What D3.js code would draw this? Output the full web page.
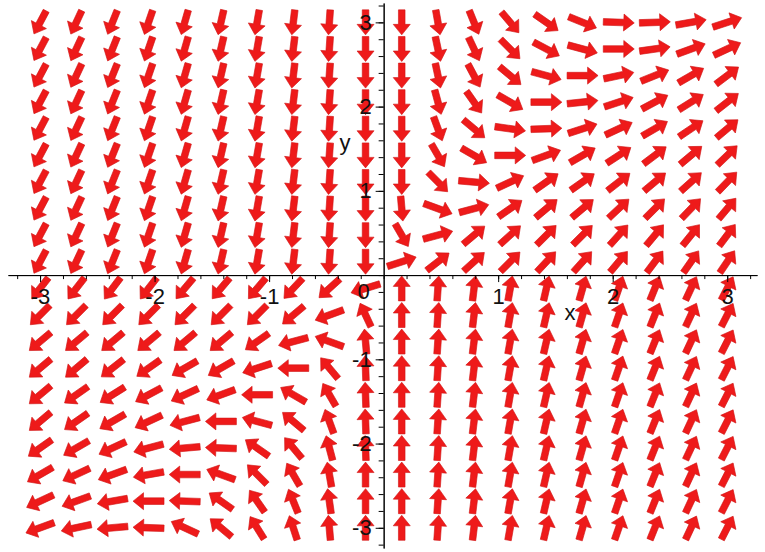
<!DOCTYPE html>
<html>
<head>
<meta charset="utf-8">
<script src="https://cdn.jsdelivr.net/npm/d3@7/dist/d3.min.js"></script>
<style>
  html, body { margin: 0; padding: 0; background: #fff; }
  svg { display: block; }
  .axis path, .axis line { stroke: #000; stroke-width: 1; }
  .axis text, .axis-label { font-family: "Liberation Sans", Arial, sans-serif; font-size: 22px; fill: #111; }
</style>
</head>
<body>
<svg id="chart"></svg>
<script>
// grid points of the direction field (20 x 20)
const xGrid = [-3, -2.684, -2.368, -2.053, -1.737, -1.421, -1.105, -0.789, -0.474, -0.158,
               0.158, 0.474, 0.789, 1.105, 1.421, 1.737, 2.053, 2.368, 2.684, 3];
const yGrid = [3, 2.684, 2.368, 2.053, 1.737, 1.421, 1.105, 0.789, 0.474, 0.158,
               -0.158, -0.474, -0.789, -1.105, -1.421, -1.737, -2.053, -2.368, -2.684, -3];

// arrow direction on screen, degrees counter-clockwise from +x, one row per yGrid value
const angleRows = [
  [-118, -115, -112, -109, -106, -103, -100, -97, -94, -90,   -90, -80, -68, -50, -35, -22, -2, 2, 10, 18],
  [-118, -115, -112, -109, -106, -103, -100, -97, -94, -90,   -90, -78, -65, -45, -28, -15, 0, 8, 20, 25],
  [-118, -115, -112, -109, -106, -103, -100, -97, -94, -90,   -90, -78, -62, -40, -15, 0, 12, 22, 30, 37],
  [-118, -115, -112, -109, -106, -103, -100, -97, -94, -90,   -90, -75, -55, -30, 0, 6, 18, 28, 32, 38],
  [-118, -115, -112, -109, -106, -103, -100, -97, -94, -90,   -90, -70, -40, -8, 2, 18, 25, 30, 34, 40],
  [-118, -115, -112, -109, -106, -103, -100, -97, -94, -90,   -90, -60, -30, 0, 20, 30, 33, 37, 40, 44],
  [-118, -115, -112, -109, -106, -103, -100, -97, -94, -90,   -90, -45, -5, 25, 35, 35, 38, 40, 42, 46],
  [-118, -115, -112, -109, -106, -103, -100, -97, -94, -90,   -85, -20, 15, 35, 40, 40, 43, 45, 46, 50],
  [-118, -115, -112, -109, -106, -103, -100, -97, -94, -90,   -60, 15, 40, 42, 45, 45, 48, 50, 51, 53],
  [-118, -115, -112, -109, -106, -103, -100, -97, -94, -90,   18, 38, 42, 45, 47, 48, 50, 53, 55, 56],
  [-128, -128, -127, -128, -130, -130, -130, -133, -138, -163,   90, 86, 83, 80, 77, 74, 71, 68, 65, 63],
  [-135, -135, -135, -135, -135, -135, -135, -140, -160, 115,   90, 86, 83, 80, 77, 74, 71, 68, 65, 63],
  [-140, -140, -140, -140, -140, -140, -145, -165, 160, 95,    90, 86, 83, 80, 77, 74, 71, 68, 65, 63],
  [-140, -140, -142, -145, -150, -150, -162, 180, 130, 92,     90, 86, 83, 80, 77, 74, 71, 68, 65, 63],
  [-140, -145, -148, -152, -155, -160, 180, 150, 120, 92,      90, 86, 83, 80, 77, 74, 71, 68, 65, 63],
  [-140, -145, -150, -155, -165, 180, 165, 140, 110, 92,       90, 86, 83, 80, 77, 74, 71, 68, 65, 63],
  [-145, -150, -155, -165, -175, 178, 145, 130, 105, 92,       90, 86, 83, 80, 77, 74, 71, 68, 65, 63],
  [-150, -155, -160, -170, 180, 160, 135, 120, 100, 90,        90, 86, 83, 80, 77, 74, 71, 68, 65, 63],
  [-155, -160, -170, 180, 178, 145, 125, 112, 98, 90,          90, 86, 83, 80, 77, 74, 71, 68, 65, 63],
  [-160, -168, -175, 178, 155, 140, 122, 108, 95, 90,          90, 86, 83, 80, 77, 74, 71, 68, 65, 63]
];

const xTickLabels = [-3, -2, -1, 1, 2, 3];
const yTickLabels = [-3, -2, -1, 1, 2, 3];

const width = 765, height = 552;

const svg = d3.select('#chart')
    .attr('width', width)
    .attr('height', height);

const x = d3.scaleLinear()
    .domain([-3.28, 3.26])
    .range([8, 757]);

const y = d3.scaleLinear()
    .domain([-3.24, 3.23])
    .range([548, 3]);

const field = [];
yGrid.forEach((yv, r) => {
  xGrid.forEach((xv, c) => {
    field.push({x: xv, y: yv, angle: angleRows[r][c]});
  });
});

// horizontal arrows come out longer on screen than vertical ones
const hLen = 31, vLen = 25;
function screenLength(angle) {
  const a = angle * Math.PI / 180;
  return 1 / Math.hypot(Math.cos(a) / hLen, Math.sin(a) / vLen);
}

// thick arrow, pointing right, centred on the origin
const headLen = 10.5, headHalf = 8.5, shaftHalf = 3.3;
function arrowPath(L) {
  const pts = [
    [-L / 2, -shaftHalf], [L / 2 - headLen, -shaftHalf], [L / 2 - headLen, -headHalf],
    [L / 2, 0], [L / 2 - headLen, headHalf], [L / 2 - headLen, shaftHalf], [-L / 2, shaftHalf]
  ];
  return d3.line()(pts) + 'Z';
}

svg.append('g')
    .attr('class', 'arrows')
  .selectAll('path')
    .data(field)
  .enter().append('path')
    .attr('d', d => arrowPath(screenLength(d.angle)))
    .attr('transform', d => `translate(${x(d.x)}, ${y(d.y)}) rotate(${-d.angle})`)
    .style('fill', '#ee1a1a')
    .style('stroke', '#d01414')
    .style('stroke-width', 0.6);

const minorTicks = d3.range(-16, 17).map(k => k / 5);

// x axis
svg.append('g')
    .attr('class', 'axis')
    .attr('transform', `translate(0, ${y(0)})`)
    .call(d3.axisBottom(x).tickValues(minorTicks).tickSize(4).tickSizeOuter(0).tickFormat(''));

svg.append('g')
    .attr('class', 'axis')
    .attr('transform', `translate(0, ${y(0)})`)
    .call(d3.axisBottom(x).tickValues(xTickLabels).tickSize(7).tickSizeOuter(0).tickPadding(6)
      .tickFormat(d => String(d)));

// y axis
svg.append('g')
    .attr('class', 'axis')
    .attr('transform', `translate(${x(0)}, 0)`)
    .call(d3.axisLeft(y).tickValues(minorTicks).tickSize(5).tickSizeOuter(0).tickFormat(''));

svg.append('g')
    .attr('class', 'axis')
    .attr('transform', `translate(${x(0)}, 0)`)
    .call(d3.axisLeft(y).tickValues(yTickLabels).tickSize(8).tickSizeOuter(0).tickPadding(4)
      .tickFormat(d => String(d)));

svg.append('text')
    .attr('class', 'axis-label')
    .attr('x', x(0) - 14)
    .attr('y', y(0) + 24)
    .attr('text-anchor', 'end')
    .text('0');

svg.append('text')
    .attr('class', 'axis-label')
    .attr('x', 570)
    .attr('y', 320)
    .attr('text-anchor', 'middle')
    .text('x');

svg.append('text')
    .attr('class', 'axis-label')
    .attr('x', 345)
    .attr('y', 150)
    .attr('text-anchor', 'middle')
    .text('y');
</script>
</body>
</html>
